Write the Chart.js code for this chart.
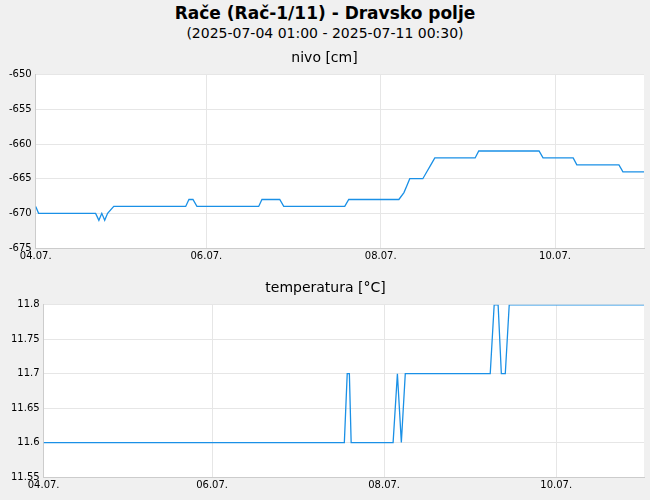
<!DOCTYPE html>
<html>
<head>
<meta charset="utf-8">
<script src="https://cdn.jsdelivr.net/npm/chart.js@4"></script>
<style>
  body { margin: 0; background: #f0f0f0; font-family: "DejaVu Sans", sans-serif; }
  #wrap { position: relative; width: 650px; height: 500px; }
  h1 { position: absolute; top: 3px; left: 0; width: 650px; margin: 0; text-align: center; font-size: 17px; font-weight: bold; color: #000; }
  h2 { position: absolute; top: 25px; left: 0; width: 650px; margin: 0; text-align: center; font-size: 14px; font-weight: normal; color: #000; }
  canvas { position: absolute; left: 0; }
</style>
</head>
<body>
<div id="wrap">
  <h1>Rače (Rač-1/11) - Dravsko polje</h1>
  <h2>(2025-07-04 01:00 - 2025-07-11 00:30)</h2>
  <canvas id="nivo" width="650" height="216" style="top:48px"></canvas>
  <canvas id="temp" width="650" height="215" style="top:278px"></canvas>
</div>
<script>
// hours since 04.07. 00:00
const tickHours = [1, 48, 96, 144];
const tickLabels = ['04.07.', '06.07.', '08.07.', '10.07.'];

const nivoHours = [1, 1.8, 17.5, 18.4, 19.2, 20, 20.8, 22.5, 42.3, 43.2, 44.3, 45.4, 62.4, 63.3, 68.2, 69.3, 86.1, 87.2,
  101, 102.4, 103.2, 104, 107.6, 108.7, 109.8, 110.9, 122, 123, 139.6, 140.7, 149, 150, 161.6, 162.7, 168.5];
const nivoValues = [-669, -670, -670, -671, -670, -671, -670, -669, -669, -668, -668, -669, -669, -668, -668, -669, -669, -668,
  -668, -667, -666, -665, -665, -664, -663, -662, -662, -661, -661, -662, -662, -663, -663, -664, -664];

const tempHours = [1, 84.9, 85.7, 86.3, 86.8, 98.5, 99.7, 100.8, 101.9, 125.6, 126.7, 127.8, 128.7, 129.8, 130.9, 168.5];
const tempValues = [11.6, 11.6, 11.7, 11.7, 11.6, 11.6, 11.7, 11.6, 11.7, 11.7, 11.8, 11.8, 11.7, 11.7, 11.8, 11.8];

const lineColor = '#1a90e6';
const font = { family: 'DejaVu Sans', size: 10 };

const plotBg = {
  id: 'plotBg',
  beforeDraw(chart) {
    const a = chart.chartArea, ctx = chart.ctx;
    ctx.save();
    ctx.fillStyle = '#ffffff';
    ctx.fillRect(a.left, a.top, a.right - a.left, a.bottom - a.top);
    ctx.restore();
  }
};

function makeChart(id, title, hours, values, yMin, yMax, yStep, leftPad) {
  const pts = hours.map((h, i) => ({ x: h, y: values[i] }));
  return new Chart(document.getElementById(id), {
    type: 'line',
    data: { datasets: [{ data: pts, borderColor: lineColor, borderWidth: 1.3, pointRadius: 0, tension: 0 }] },
    options: {
      responsive: false,
      animation: false,
      layout: { padding: { left: leftPad, right: 6, top: 0, bottom: 0 } },
      plugins: {
        legend: { display: false },
        tooltip: { enabled: false },
        title: { display: true, text: title, color: '#000', font: { family: 'DejaVu Sans', size: 14, weight: 'normal' }, padding: { top: 2, bottom: 8 } }
      },
      scales: {
        x: {
          type: 'linear', min: 1, max: 168.5,
          afterBuildTicks: axis => { axis.ticks = tickHours.map(v => ({ value: v })); },
          ticks: { callback: v => tickLabels[tickHours.indexOf(v)], color: '#000', font: font, maxRotation: 0, padding: 2 },
          grid: { color: '#e6e6e6', drawTicks: false },
          border: { color: '#cccccc' }
        },
        y: {
          min: yMin, max: yMax,
          ticks: { stepSize: yStep, color: '#000', font: font, padding: 4, callback: v => String(parseFloat(v.toFixed(2))) },
          grid: { color: '#e6e6e6', drawTicks: false },
          border: { color: '#cccccc' }
        }
      }
    },
    plugins: [plotBg]
  });
}

makeChart('nivo', 'nivo [cm]', nivoHours, nivoValues, -675, -650, 5, 5);
makeChart('temp', 'temperatura [°C]', tempHours, tempValues, 11.55, 11.8, 0.05, 7);
</script>
</body>
</html>
